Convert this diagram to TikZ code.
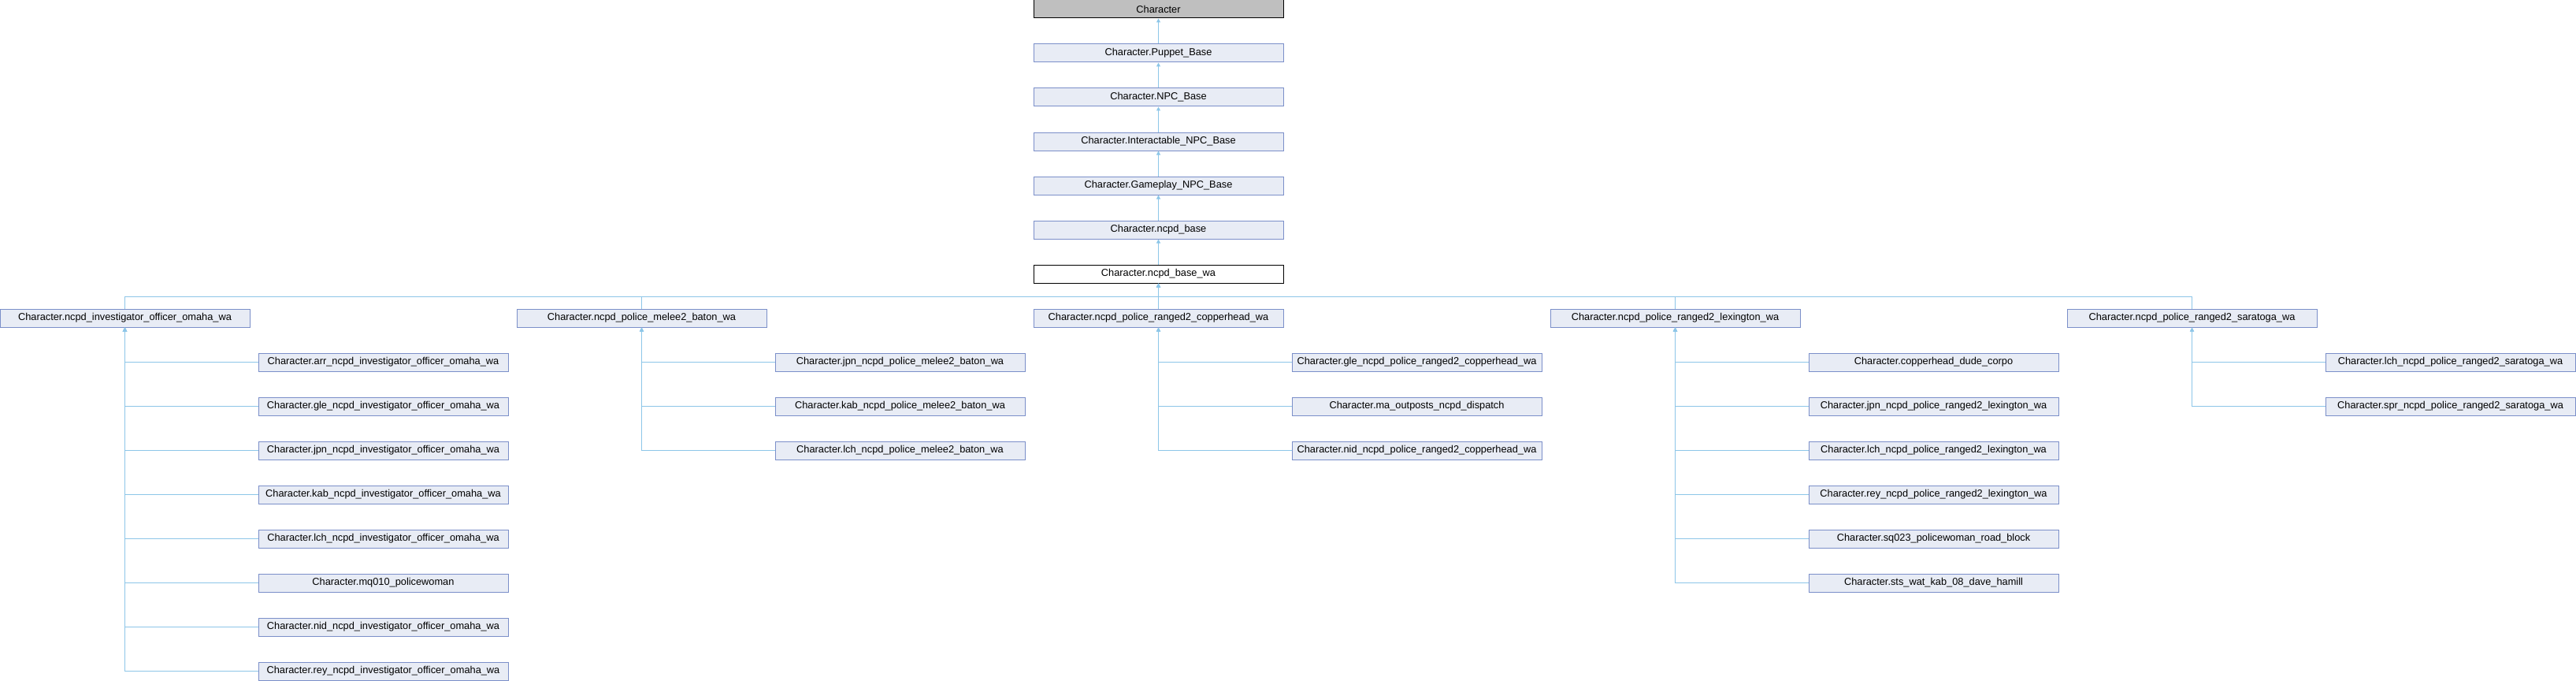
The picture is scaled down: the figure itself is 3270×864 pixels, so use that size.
\documentclass[tikz,border=0pt]{standalone}
\usepackage{fontspec}
\setmainfont{Liberation Sans}
\usetikzlibrary{arrows.meta}
\definecolor{boxfill}{HTML}{E8ECF5}
\definecolor{boxline}{HTML}{7B8FC9}
\definecolor{edgecol}{HTML}{8DC6E8}
\definecolor{topfill}{HTML}{BFBFBF}
\tikzset{
  cls/.style={draw=boxline, fill=boxfill, line width=1pt, minimum width=317pt, minimum height=23pt,
    inner sep=0pt, font=\fontsize{12.8}{14}\selectfont},
  topcls/.style={cls, draw=black, fill=topfill},
  curcls/.style={cls, draw=black, fill=white},
  link/.style={draw=edgecol, line width=1pt, -{Triangle[width=5pt,length=5pt]}}
}
\begin{document}
\begin{tikzpicture}[x=1pt,y=-1pt]
\useasboundingbox (0,0) rectangle (3270,864);
% inheritance chain
\node[topcls] (c0) at (1470.5,11.5) {Character};
\node[cls] (c1) at (1470.5,67.5) {Character.Puppet\_Base};
\node[cls] (c2) at (1470.5,123.5) {Character.NPC\_Base};
\node[cls] (c3) at (1470.5,179.5) {Character.Interactable\_NPC\_Base};
\node[cls] (c4) at (1470.5,235.5) {Character.Gameplay\_NPC\_Base};
\node[cls] (c5) at (1470.5,291.5) {Character.ncpd\_base};
\node[curcls] (c6) at (1470.5,347.5) {Character.ncpd\_base\_wa};
\draw[link] (c1.north) -- (c0.south);
\draw[link] (c2.north) -- (c1.south);
\draw[link] (c3.north) -- (c2.south);
\draw[link] (c4.north) -- (c3.south);
\draw[link] (c5.north) -- (c4.south);
\draw[link] (c6.north) -- (c5.south);
% second level
\coordinate (bus) at (1470.5,376);
\node[cls] (p0) at (158.5,403.5) {Character.ncpd\_investigator\_officer\_omaha\_wa};
\node[cls] (p1) at (814.5,403.5) {Character.ncpd\_police\_melee2\_baton\_wa};
\node[cls] (p2) at (1470.5,403.5) {Character.ncpd\_police\_ranged2\_copperhead\_wa};
\node[cls] (p3) at (2126.5,403.5) {Character.ncpd\_police\_ranged2\_lexington\_wa};
\node[cls] (p4) at (2782.5,403.5) {Character.ncpd\_police\_ranged2\_saratoga\_wa};
\foreach \p in {0,...,4} {
  \draw[link] (p\p.north) |- (bus) -- (c6.south);
}
% children of investigator
\foreach \t [count=\i from 0] in {arr\_ncpd\_investigator\_officer\_omaha\_wa, gle\_ncpd\_investigator\_officer\_omaha\_wa,
  jpn\_ncpd\_investigator\_officer\_omaha\_wa, kab\_ncpd\_investigator\_officer\_omaha\_wa,
  lch\_ncpd\_investigator\_officer\_omaha\_wa, mq010\_policewoman,
  nid\_ncpd\_investigator\_officer\_omaha\_wa, rey\_ncpd\_investigator\_officer\_omaha\_wa} {
  \node[cls] (a\i) at (486.5,459.5+56*\i) {Character.\t};
  \draw[link] (a\i.west) -| (p0.south);
}
% children of melee baton
\foreach \t [count=\i from 0] in {jpn\_ncpd\_police\_melee2\_baton\_wa, kab\_ncpd\_police\_melee2\_baton\_wa,
  lch\_ncpd\_police\_melee2\_baton\_wa} {
  \node[cls] (b\i) at (1142.5,459.5+56*\i) {Character.\t};
  \draw[link] (b\i.west) -| (p1.south);
}
% children of copperhead
\foreach \t [count=\i from 0] in {gle\_ncpd\_police\_ranged2\_copperhead\_wa, ma\_outposts\_ncpd\_dispatch,
  nid\_ncpd\_police\_ranged2\_copperhead\_wa} {
  \node[cls] (d\i) at (1798.5,459.5+56*\i) {Character.\t};
  \draw[link] (d\i.west) -| (p2.south);
}
% children of lexington
\foreach \t [count=\i from 0] in {copperhead\_dude\_corpo, jpn\_ncpd\_police\_ranged2\_lexington\_wa,
  lch\_ncpd\_police\_ranged2\_lexington\_wa, rey\_ncpd\_police\_ranged2\_lexington\_wa,
  sq023\_policewoman\_road\_block, sts\_wat\_kab\_08\_dave\_hamill} {
  \node[cls] (e\i) at (2454.5,459.5+56*\i) {Character.\t};
  \draw[link] (e\i.west) -| (p3.south);
}
% children of saratoga
\foreach \t [count=\i from 0] in {lch\_ncpd\_police\_ranged2\_saratoga\_wa, spr\_ncpd\_police\_ranged2\_saratoga\_wa} {
  \node[cls] (f\i) at (3110.5,459.5+56*\i) {Character.\t};
  \draw[link] (f\i.west) -| (p4.south);
}
\end{tikzpicture}
\end{document}
